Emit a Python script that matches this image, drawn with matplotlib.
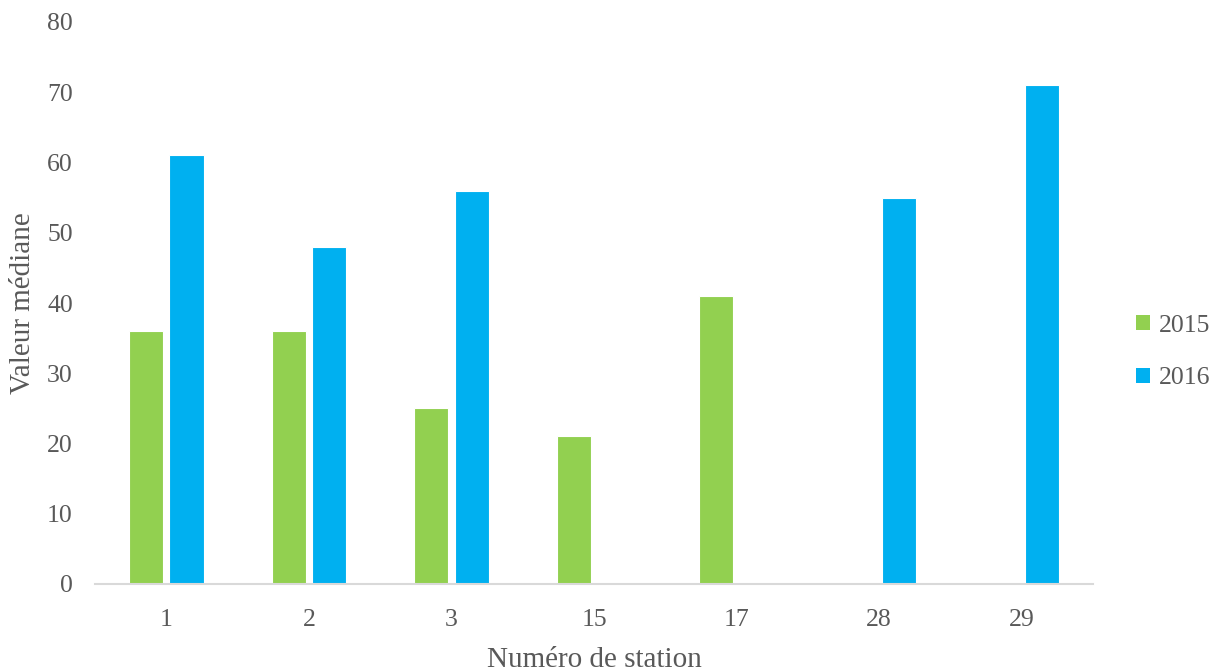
import numpy as np
import matplotlib
matplotlib.use("Agg")
import matplotlib.pyplot as plt
from matplotlib.patches import Patch

stations = ["1", "2", "3", "15", "17", "28", "29"]
values_2015 = [36, 36, 25, 21, 41, np.nan, np.nan]
values_2016 = [61, 48, 56, np.nan, np.nan, 55, 71]

green = "#92D050"
blue = "#00B0F0"
text_col = "#595959"

plt.rcParams["font.family"] = ["Liberation Serif", "DejaVu Serif"]

W, H = 1209, 671
fig = plt.figure(figsize=(W / 100, H / 100), dpi=100)
ax = fig.add_axes([95 / W, 1 - 584 / H, (1093 - 95) / W, (584 - 22) / H])

x = np.arange(len(stations))
width = 0.24
off = 0.142
ax.bar(x - off, values_2015, width, color=green, edgecolor="white", linewidth=0.8, label="2015")
ax.bar(x + off, values_2016, width, color=blue, edgecolor="white", linewidth=0.8, label="2016")

ax.set_xlim(-0.5, len(stations) - 0.5)
ax.set_ylim(0, 80)
ax.set_yticks(np.arange(0, 81, 10))
ax.set_xticks(x)
ax.set_xticklabels(stations)

for side in ["top", "right", "left"]:
    ax.spines[side].set_visible(False)
ax.spines["bottom"].set_color("#D9D9D9")
ax.spines["bottom"].set_linewidth(1.5)
ax.tick_params(axis="both", length=0, labelsize=18.5, colors=text_col)
ax.tick_params(axis="y", pad=16)
ax.tick_params(axis="x", pad=18)

ax.set_xlabel("Numéro de station", fontsize=21, color=text_col, va="center")
ax.xaxis.set_label_coords(0.5, (584 - 660) / 562)
ax.set_ylabel("Valeur médiane", fontsize=21, color=text_col, va="center")
ax.yaxis.set_label_coords((23 - 95) / 998, 0.5)

handles = [Patch(facecolor=green, label="2015"), Patch(facecolor=blue, label="2016")]
fig.legend(handles=handles, loc="center left", bbox_to_anchor=(1136 / W, 1 - 352 / H),
           frameon=False, fontsize=18.5, labelcolor=text_col, handlelength=0.55,
           handleheight=0.55, handletextpad=0.35, labelspacing=1.2,
           borderpad=0, borderaxespad=0)

fig.savefig("out.png", dpi=100)
